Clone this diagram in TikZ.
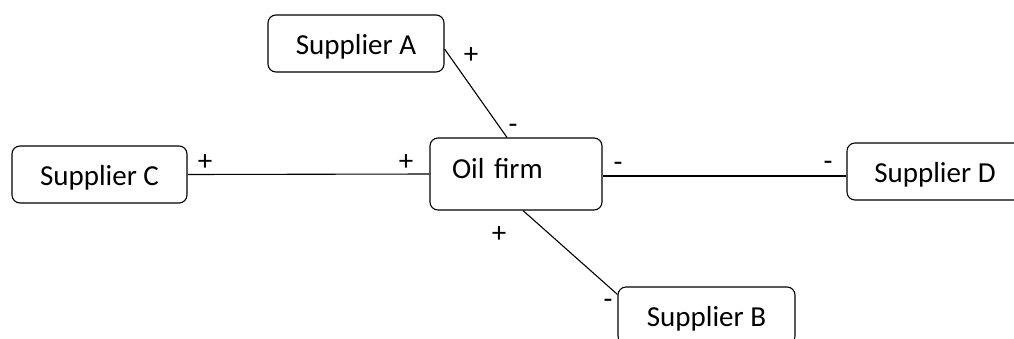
\documentclass[tikz,border=0pt]{standalone}
\usepackage{fontspec}
\setmainfont{Carlito}
\usetikzlibrary{calc}
\begin{document}
\begin{tikzpicture}[x=1pt,y=-1pt,
  box/.style={draw, rounded corners=8pt, line width=1.1pt, minimum height=57pt,
    inner sep=0pt, text height=26pt, text depth=4.3pt, font=\fontsize{29}{34}\selectfont},
  oilbox/.style={draw, rounded corners=8pt, line width=1.1pt, minimum height=72pt,
    inner ysep=0pt, inner xsep=22pt, text width=128pt, align=left,
    text height=17.4pt, text depth=7.8pt, font=\fontsize{29}{34}\selectfont},
  sign/.style={inner sep=0pt, anchor=base, font=\fontsize{29}{34}\selectfont},
  link/.style={line width=1.1pt}]
\useasboundingbox (0,0) rectangle (1014,338);
\clip (0,0) rectangle (1014,338);
\node[box, minimum width=176pt] (A) at (356,43.5) {Supplier A};
\node[oilbox] (oil) at (516,174) {Oil firm};
\node[box, minimum width=175pt] (C) at (99.5,174.5) {Supplier C};
\node[box, minimum width=176pt] (D) at (935,171.5) {Supplier D};
\node[box, minimum width=177pt] (B) at (706.5,315.5) {Supplier B};
\draw[link] ([yshift=-5.5pt]A.east) -- ([xshift=-9pt]oil.north);
\draw[link] (C.east) -- (oil.west);
\draw[link] ([yshift=-2pt]oil.east) -- ([yshift=-4.5pt]D.west);
\draw[link] ([xshift=7pt]oil.south) -- ([yshift=-8pt]B.north west);
\node[sign] (sa1) at (471,63.6) {+};
\node[sign] (sa2) at (513,133) {-};
\node[sign] (sc1) at (205,170.6) {+};
\node[sign] (sc2) at (406,170.6) {+};
\node[sign] (sd1) at (618,171) {-};
\node[sign] (sd2) at (828,170) {-};
\node[sign] (sb1) at (499,242.6) {+};
\node[sign] (sb2) at (608,308) {-};
\end{tikzpicture}
\end{document}
